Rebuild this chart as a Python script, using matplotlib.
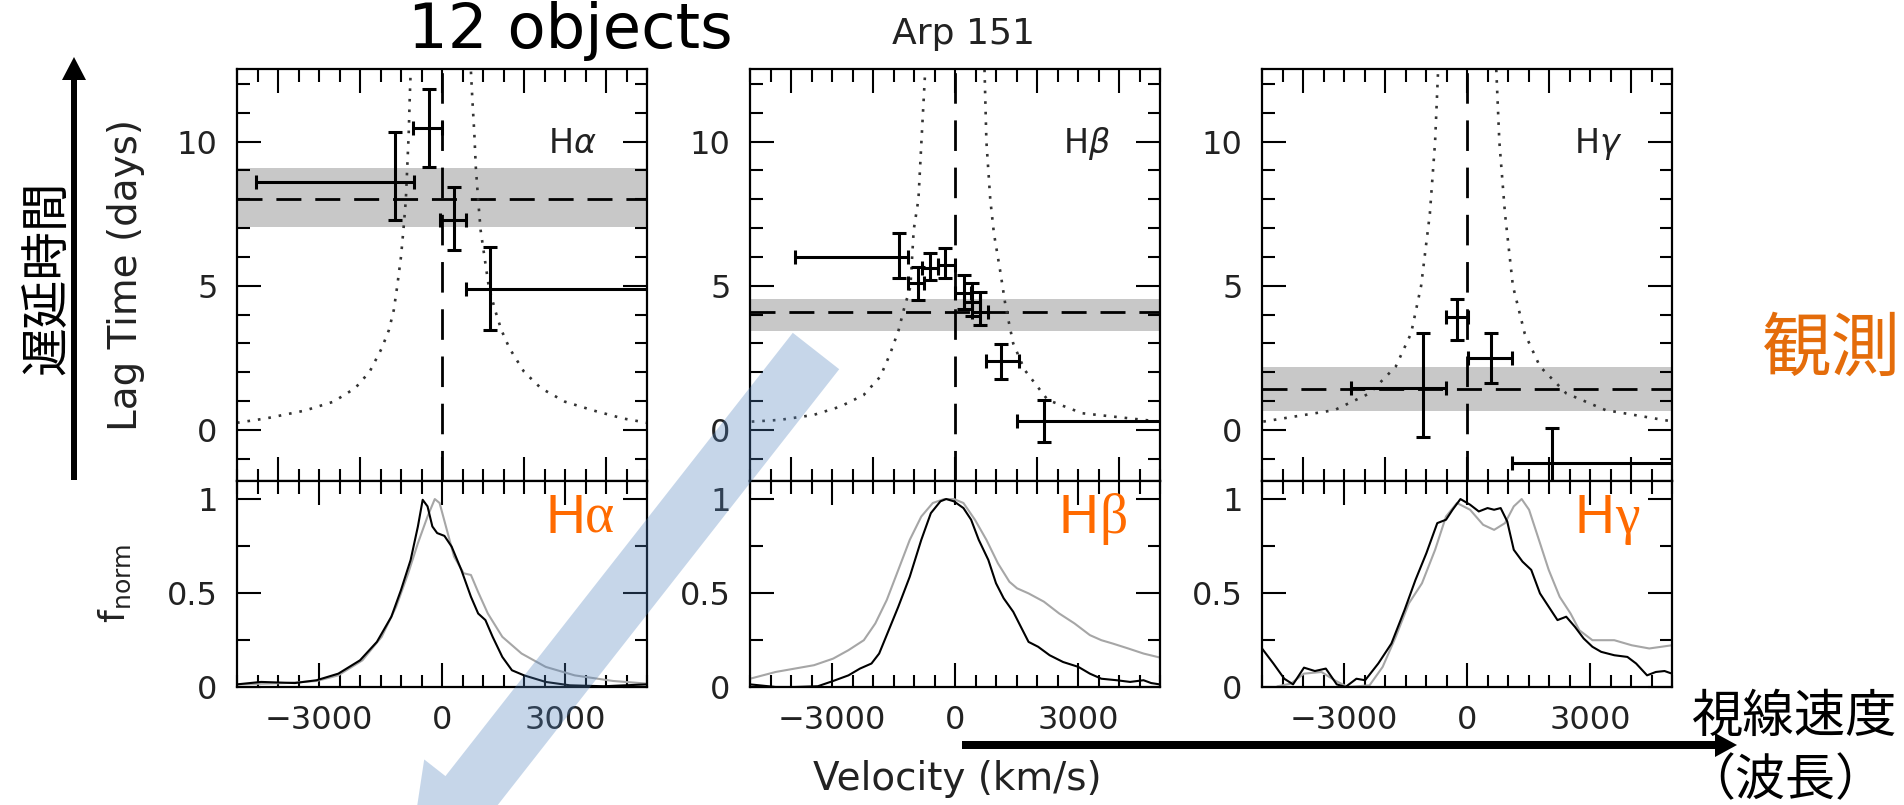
import matplotlib.pyplot as plt
from matplotlib.patches import FancyArrow
from matplotlib.ticker import MultipleLocator, FuncFormatter

plt.rcParams['font.family'] = ['DejaVu Sans', 'Noto Sans CJK JP']
plt.rcParams['mathtext.fontset'] = 'dejavusans'

W, H, DPI = 1904, 805, 100
INK = '#222222'
ORANGE = '#FF6A00'

################################################################################
# DATA
################################################################################
greek_names = ['α', 'β', 'γ']

# lag measurements: velocity bin centre and edges (km/s), lag and its range (days)
ha_vel = [-1141, -318, 294, 1176]
ha_vel_lo = [-4529, -706, -59, 588]
ha_vel_hi = [-671, 0, 588, 5600]
ha_lag = [8.61, 10.46, 7.28, 4.88]
ha_lag_lo = [7.28, 9.13, 6.24, 3.47]
ha_lag_hi = [10.32, 11.81, 8.44, 6.36]

hb_vel = [-1357, -909, -599, -232, 215, 420, 600, 1121, 2168]
hb_vel_lo = [-3905, -1154, -802, -420, 12, 215, 420, 748, 1514]
hb_vel_hi = [-1154, -746, -420, 12, 401, 620, 800, 1561, 5600]
hb_lag = [6.01, 5.11, 5.62, 5.72, 4.74, 4.45, 4.10, 2.39, 0.31]
hb_lag_lo = [5.26, 4.51, 5.20, 5.26, 4.20, 3.95, 3.64, 1.76, -0.40]
hb_lag_hi = [6.82, 5.66, 6.15, 6.30, 5.38, 5.09, 4.80, 2.98, 1.04]

hg_vel = [-1066, -245, 586, 2068]
hg_vel_lo = [-2825, -512, 21, 1087]
hg_vel_hi = [-512, 21, 1087, 5600]
hg_lag = [1.45, 3.93, 2.51, -1.16]
hg_lag_lo = [-0.25, 3.12, 1.62, -2.40]
hg_lag_hi = [3.38, 4.53, 3.38, 0.08]

# mean lag and its uncertainty band
mean_lag = [8.01, 4.10, 1.41]
mean_lag_lo = [7.05, 3.44, 0.67]
mean_lag_hi = [9.10, 4.54, 2.20]

# dotted virial envelopes
ha_env_left_v = [-5000, -4294, -3353, -2647, -2118, -1765, -1471, -1294, -1176, -1094, -1000, -941, -882, -847, -812, -788, -765]
ha_env_left_t = [0.25, 0.40, 0.67, 0.98, 1.45, 2.02, 2.83, 3.47, 4.16, 4.97, 6.01, 6.94, 7.98, 9.13, 10.29, 11.45, 12.43]
ha_env_right_v = [706, 741, 788, 824, 882, 941, 1035, 1141, 1294, 1447, 1647, 2000, 2412, 3000, 3706, 4412, 5000]
ha_env_right_t = [12.43, 11.45, 10.29, 9.13, 7.98, 6.94, 6.01, 4.97, 4.16, 3.47, 2.83, 2.02, 1.45, 0.98, 0.67, 0.40, 0.25]

hb_env_left_v = [-4958, -4267, -3452, -2800, -2230, -1822, -1577, -1374, -1252, -1088, -1007, -892, -819, -725]
hb_env_left_t = [0.29, 0.35, 0.52, 0.81, 1.21, 1.85, 2.66, 3.47, 4.16, 4.97, 6.94, 8.0, 10.0, 12.5]
hb_env_right_v = [720, 766, 860, 949, 1112, 1235, 1420, 1700, 2262, 3103, 4991]
hb_env_right_t = [12.5, 10.0, 8.0, 6.82, 5.43, 4.28, 3.0, 2.08, 1.04, 0.58, 0.29]

hg_env_left_v = [-4968, -3230, -2377, -1738, -1364, -1119, -906, -778, -704]
hg_env_left_t = [0.29, 0.69, 1.27, 2.2, 3.35, 5.0, 7.5, 10.0, 12.5]
hg_env_right_v = [714, 789, 927, 1119, 1407, 1780, 2420, 3379, 5031]
hg_env_right_t = [12.5, 10.0, 7.5, 5.0, 3.35, 2.2, 1.27, 0.69, 0.29]

# line profiles (black = rms, grey = mean)
ha_rms_v = [-5000, -4412, -3588, -3059, -2529, -2000, -1588, -1235, -1000, -765, -588, -471, -353, -235, -118, 59, 235, 471, 706, 882, 1059, 1235, 1471, 1706, 2000, 2529, 3118, 3941, 5000]
ha_rms_f = [0.014, 0.027, 0.021, 0.036, 0.071, 0.142, 0.240, 0.374, 0.516, 0.676, 0.854, 0.996, 0.961, 0.854, 0.819, 0.804, 0.747, 0.623, 0.480, 0.391, 0.356, 0.267, 0.160, 0.089, 0.062, 0.027, 0.009, 0.004, 0.014]
ha_mean_v = [-5000, -3824, -3059, -2529, -1941, -1471, -1118, -824, -588, -353, -176, -59, 118, 294, 529, 706, 882, 1118, 1471, 1941, 2529, 3235, 4176, 5000]
ha_mean_f = [0.014, 0.021, 0.032, 0.062, 0.142, 0.267, 0.427, 0.605, 0.765, 0.907, 1.0, 0.979, 0.836, 0.694, 0.605, 0.596, 0.505, 0.391, 0.267, 0.178, 0.107, 0.062, 0.032, 0.018]

hb_rms_v = [-5000, -4374, -3907, -3346, -2972, -2598, -2318, -2037, -1850, -1617, -1383, -1103, -822, -589, -355, -215, -28, 206, 393, 579, 813, 1000, 1187, 1421, 1607, 1794, 2028, 2308, 2636, 3009, 3290, 3570, 3944, 4271, 4598, 4785, 4991]
hb_rms_f = [0.014, 0.0, 0.0, 0.004, 0.032, 0.062, 0.098, 0.125, 0.178, 0.302, 0.427, 0.587, 0.783, 0.925, 0.988, 1.0, 0.988, 0.952, 0.890, 0.783, 0.676, 0.552, 0.472, 0.400, 0.320, 0.240, 0.214, 0.169, 0.133, 0.107, 0.071, 0.044, 0.036, 0.027, 0.036, 0.021, 0.014]
hb_mean_v = [-5000, -4374, -3907, -3439, -2972, -2598, -2224, -1944, -1664, -1383, -1103, -822, -542, -262, -28, 206, 486, 766, 1047, 1327, 1514, 1794, 2168, 2542, 2916, 3290, 3570, 3850, 4224, 4598, 4991]
hb_mean_f = [0.044, 0.080, 0.098, 0.116, 0.151, 0.196, 0.249, 0.338, 0.463, 0.623, 0.783, 0.907, 0.979, 1.0, 1.0, 0.979, 0.890, 0.783, 0.658, 0.560, 0.525, 0.498, 0.454, 0.391, 0.338, 0.276, 0.249, 0.231, 0.205, 0.178, 0.157]

hg_rms_v = [-5000, -4722, -4456, -4243, -3976, -3710, -3443, -3177, -2963, -2697, -2484, -2164, -1844, -1524, -1258, -991, -725, -512, -352, -160, 75, 288, 501, 661, 821, 981, 1141, 1354, 1567, 1780, 1993, 2207, 2420, 2633, 2846, 3059, 3273, 3592, 3912, 4125, 4392, 4605, 4818, 5000]
hg_rms_f = [0.205, 0.125, 0.044, 0.014, 0.103, 0.085, 0.098, 0.014, 0.0, 0.044, 0.036, 0.125, 0.231, 0.409, 0.569, 0.712, 0.872, 0.890, 0.943, 1.0, 0.970, 0.934, 0.952, 0.943, 0.952, 0.881, 0.730, 0.667, 0.623, 0.498, 0.427, 0.356, 0.374, 0.320, 0.258, 0.214, 0.187, 0.169, 0.160, 0.125, 0.062, 0.080, 0.085, 0.071]
hg_mean_v = [-4616, -4296, -3976, -3550, -3230, -2910, -2377, -2057, -1738, -1418, -1098, -778, -512, -245, 75, 394, 661, 927, 1141, 1333, 1514, 1727, 1993, 2260, 2526, 2740, 3059, 3592, 4018, 4445, 5000]
hg_mean_f = [0.004, 0.018, 0.071, 0.080, 0.036, 0.0, 0.009, 0.107, 0.267, 0.445, 0.552, 0.730, 0.907, 0.979, 0.943, 0.863, 0.836, 0.872, 0.961, 1.0, 0.943, 0.801, 0.623, 0.480, 0.391, 0.302, 0.249, 0.249, 0.222, 0.205, 0.222]

panels = [
    dict(vel=ha_vel, vlo=ha_vel_lo, vhi=ha_vel_hi, lag=ha_lag, llo=ha_lag_lo, lhi=ha_lag_hi,
         env=(ha_env_left_v, ha_env_left_t, ha_env_right_v, ha_env_right_t),
         rms=(ha_rms_v, ha_rms_f), mean=(ha_mean_v, ha_mean_f)),
    dict(vel=hb_vel, vlo=hb_vel_lo, vhi=hb_vel_hi, lag=hb_lag, llo=hb_lag_lo, lhi=hb_lag_hi,
         env=(hb_env_left_v, hb_env_left_t, hb_env_right_v, hb_env_right_t),
         rms=(hb_rms_v, hb_rms_f), mean=(hb_mean_v, hb_mean_f)),
    dict(vel=hg_vel, vlo=hg_vel_lo, vhi=hg_vel_hi, lag=hg_lag, llo=hg_lag_lo, lhi=hg_lag_hi,
         env=(hg_env_left_v, hg_env_left_t, hg_env_right_v, hg_env_right_t),
         rms=(hg_rms_v, hg_rms_f), mean=(hg_mean_v, hg_mean_f)),
]


################################################################################
# HELPERS
################################################################################
def px_box(left, top, width, height):
    return [left / W, 1 - (top + height) / H, width / W, height / H]


def style_axes(ax, xmajor, ymajor, yminor, show_xlabels):
    ax.set_xlim(-5000, 5000)
    ax.xaxis.set_major_locator(MultipleLocator(xmajor))
    ax.xaxis.set_minor_locator(MultipleLocator(500))
    ax.yaxis.set_major_locator(MultipleLocator(ymajor))
    ax.yaxis.set_minor_locator(MultipleLocator(yminor))
    ax.yaxis.set_major_formatter(FuncFormatter(lambda v, _: f'{v:g}'))
    ax.tick_params(which='both', direction='in', top=True, right=True, width=1.5,
                   colors='k', labelcolor=INK, labelsize=23, labelbottom=show_xlabels)
    ax.tick_params(which='major', length=17)
    ax.tick_params(which='minor', length=9)
    ax.tick_params(axis='x', pad=13)
    ax.tick_params(axis='y', pad=14)
    for s in ax.spines.values():
        s.set_linewidth(1.6)


################################################################################
# PLOT
################################################################################
fig = plt.figure(figsize=(W / DPI, H / DPI), dpi=DPI)
panel_left = [237, 750, 1262]

for i, p in enumerate(panels):
    ax = fig.add_axes(px_box(panel_left[i], 69, 410, 412))
    style_axes(ax, 2000, 5, 1, False)
    ax.set_ylim(-1.77, 12.52)

    ax.axhspan(mean_lag_lo[i], mean_lag_hi[i], color='#c8c8c8', lw=0, zorder=0)
    ax.axhline(mean_lag[i], color='k', lw=2, dashes=(9, 5), zorder=1)
    ax.axvline(0, color='k', lw=2, dashes=(11, 6), zorder=1)

    lv, lt, rv, rt = p['env']
    ax.plot(lv, lt, color='#333333', lw=1.9, linestyle=(0, (1, 3)), zorder=1)
    ax.plot(rv, rt, color='#333333', lw=1.9, linestyle=(0, (1, 3)), zorder=1)

    xerr = [[v - lo for v, lo in zip(p['vel'], p['vlo'])],
            [hi - v for v, hi in zip(p['vel'], p['vhi'])]]
    yerr = [[t - lo for t, lo in zip(p['lag'], p['llo'])],
            [hi - t for t, hi in zip(p['lag'], p['lhi'])]]
    ax.errorbar(p['vel'], p['lag'], xerr=xerr, yerr=yerr, fmt='none', ecolor='k',
                elinewidth=2.2, capsize=4.7, capthick=2.2, zorder=3)

    ax.text(0.878, 9.6, 'H$\\' + ['alpha', 'beta', 'gamma'][i] + '$', transform=ax.get_yaxis_transform(),
            ha='right', va='baseline', fontsize=24, color=INK)

    axf = fig.add_axes(px_box(panel_left[i], 481, 410, 206))
    style_axes(axf, 3000, 0.5, 0.25, True)
    axf.set_ylim(0, 1.096)
    axf.plot(*p['mean'], color='#a6a6a6', lw=1.5)
    axf.plot(*p['rms'], color='k', lw=1.5)

    g = axf.text(0.92, 0.69, greek_names[i], transform=axf.transAxes, ha='right', va='bottom',
                 fontsize=40, color=ORANGE, family='Liberation Serif')
    axf.annotate('H', xy=(0, 0), xycoords=g, ha='right', va='bottom',
                 fontsize=40, color=ORANGE, family='Liberation Sans')

# overlay in pixel coordinates for arrows and slide text
ov = fig.add_axes([0, 0, 1, 1], zorder=10)
ov.set_xlim(0, W)
ov.set_ylim(H, 0)
ov.axis('off')

ov.add_patch(FancyArrow(74, 480, 0, -423, width=6, head_width=24, head_length=23,
                        length_includes_head=True, color='k', lw=0))
ov.add_patch(FancyArrow(962, 745, 775, 0, width=8, head_width=24, head_length=22,
                        length_includes_head=True, color='k', lw=0))
ov.add_patch(FancyArrow(816, 351, -409, 522, width=59, head_width=113, head_length=100,
                        length_includes_head=True, color='#4F81BD', alpha=0.32, lw=0))

ov.text(570, 48, '12 objects', fontsize=45, ha='center', va='baseline', color='k')
ov.text(963, 44, 'Arp 151', fontsize=26, ha='center', va='baseline', color=INK)
ov.text(957, 790, 'Velocity (km/s)', fontsize=28, ha='center', va='baseline', color=INK)
ov.text(126, 275, 'Lag Time (days)', fontsize=28, rotation=90, ha='center', va='center', color=INK)
ov.text(115, 583, r'$\mathregular{f_{norm}}$', fontsize=26, rotation=90, ha='center', va='center', color=INK)

cjk = ['Noto Sans CJK JP', 'DejaVu Sans']
ov.text(47, 278, '遅延時間', fontsize=35, rotation=90, ha='center', va='center', family=cjk)
ov.text(1831, 350, '観測', fontsize=50, ha='center', va='center', color='#E46C0A', family=cjk)
ov.text(1794, 717, '視線速度', fontsize=37, ha='center', va='center', family=cjk)
ov.text(1785, 781, '（波長）', fontsize=36, ha='center', va='center', family=cjk)

fig.savefig('out.png', dpi=DPI)
